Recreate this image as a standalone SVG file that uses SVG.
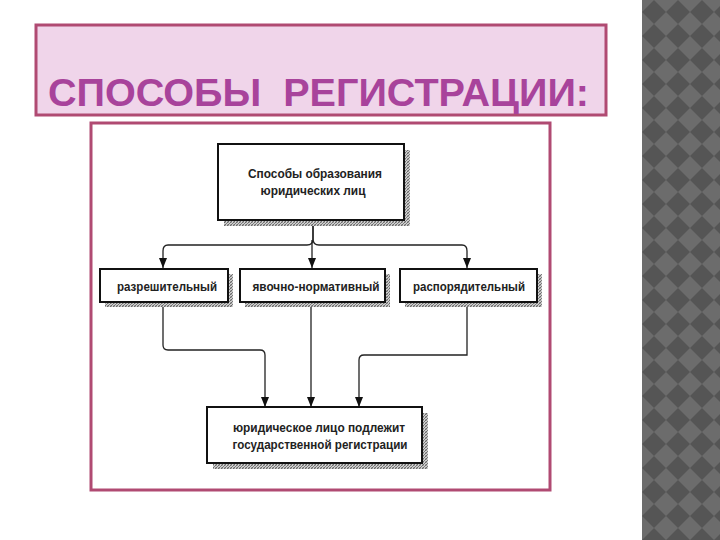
<svg xmlns="http://www.w3.org/2000/svg" width="720" height="540" viewBox="0 0 720 540">
<defs>
<pattern id="diam" x="642" y="0" width="24" height="24" patternUnits="userSpaceOnUse">
<rect width="24" height="24" fill="#6c6c6c"/>
<path d="M12 0 L24 12 L12 24 L0 12 Z" fill="#555"/>
</pattern>
<pattern id="hatch" width="3" height="3" patternUnits="userSpaceOnUse">
<rect width="3" height="3" fill="#d0d0d0"/>
<path d="M0 3 L3 0" stroke="#6a6a6a" stroke-width="1"/>
<path d="M0 0 L3 3" stroke="#8a8a8a" stroke-width="0.6"/>
</pattern>
<marker id="arr" viewBox="0 0 10 8" refX="10" refY="4" markerWidth="10" markerHeight="8" markerUnits="userSpaceOnUse" orient="auto">
<path d="M0 0 L10 4 L0 8 Z" fill="#111"/>
</marker>
<style>
.sh{fill:url(#hatch);}
.bx{fill:#fff;stroke:#111;stroke-width:2;}
.t{font-family:"Liberation Sans Narrow","Liberation Sans",sans-serif;font-weight:bold;font-size:13px;fill:#222;text-anchor:middle;}
.c{fill:none;stroke:#222;stroke-width:1.3;}
</style>
</defs>
<rect width="720" height="540" fill="#fff"/>
<rect x="642" y="0" width="78" height="540" fill="url(#diam)"/>
<g id="title">
<rect x="36" y="25" width="570" height="90" fill="#f0d5ea" stroke="#b04a72" stroke-width="3"/>
<text x="48" y="106" xml:space="preserve" style="white-space:pre" font-family="Liberation Sans, Arial, sans-serif" font-weight="bold" font-size="39" fill="#a8439b" textLength="541" lengthAdjust="spacingAndGlyphs">СПОСОБЫ  РЕГИСТРАЦИИ:</text>
</g>
<rect x="91" y="123" width="459" height="367" fill="#fff" stroke="#b04a72" stroke-width="3"/>
<g id="connectors">
<path class="c" d="M313 220 V239 Q313 245 307 245 H168 Q163 245 163 251 V268" marker-end="url(#arr)"/>
<path class="c" d="M313 220 V239 Q313 245 319 245 H462 Q467 245 467 251 V268" marker-end="url(#arr)"/>
<path class="c" d="M312 240 V268" marker-end="url(#arr)"/>
<path class="c" d="M163 302 V345 Q163 350 168 350 H260 Q265 350 265 355 V407" marker-end="url(#arr)"/>
<path class="c" d="M311 302 V407" marker-end="url(#arr)"/>
<path class="c" d="M467 302 V355 H364 Q359 355 359 360 V407" marker-end="url(#arr)"/>
</g>
<g id="top">
<rect class="sh" x="224" y="150" width="186" height="76"/>
<rect class="bx" x="218" y="144" width="186" height="76"/>
<text class="t" x="315" y="178" textLength="134" lengthAdjust="spacingAndGlyphs">Способы образования</text>
<text class="t" x="313" y="195" textLength="105" lengthAdjust="spacingAndGlyphs">юридических лиц</text>
</g>
<g id="n1">
<rect class="sh" x="105" y="274" width="128" height="33"/>
<rect class="bx" x="100" y="269" width="128" height="33"/>
<text class="t" x="167" y="291" textLength="100" lengthAdjust="spacingAndGlyphs">разрешительный</text>
</g>
<g id="n2">
<rect class="sh" x="245" y="274" width="145" height="33"/>
<rect class="bx" x="240" y="269" width="145" height="33"/>
<text class="t" x="316" y="291" textLength="127" lengthAdjust="spacingAndGlyphs">явочно-нормативный</text>
</g>
<g id="n3">
<rect class="sh" x="405" y="274" width="137" height="33"/>
<rect class="bx" x="400" y="269" width="137" height="33"/>
<text class="t" x="469" y="291" textLength="112" lengthAdjust="spacingAndGlyphs">распорядительный</text>
</g>
<g id="bottom">
<rect class="sh" x="213" y="413" width="215" height="56"/>
<rect class="bx" x="207" y="407" width="215" height="56"/>
<text class="t" x="319" y="432" textLength="172" lengthAdjust="spacingAndGlyphs">юридическое лицо подлежит</text>
<text class="t" x="320" y="449" textLength="175" lengthAdjust="spacingAndGlyphs">государственной регистрации</text>
</g>
</svg>
